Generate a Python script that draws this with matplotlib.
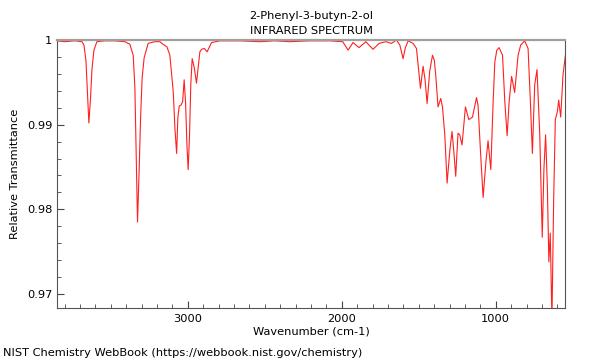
import matplotlib
matplotlib.use("Agg")
import matplotlib.pyplot as plt
from matplotlib.ticker import MultipleLocator

# spectrum (wavenumber in cm-1, relative transmittance)
wavenumber = [3851, 3799, 3734, 3688, 3675, 3662, 3653, 3643, 3633, 3623,
              3610, 3591, 3539, 3474, 3409, 3377, 3355, 3344, 3336, 3327,
              3316, 3307, 3297, 3284, 3258, 3214, 3182, 3162, 3136, 3117,
              3095, 3084, 3073, 3065, 3056, 3045, 3034, 3024, 3015, 3006,
              2998, 2989, 2981, 2972, 2958, 2944, 2933, 2922, 2911, 2893,
              2875, 2846, 2792, 2662, 2532, 2435, 2338, 2208, 2078, 1994,
              1959, 1927, 1888, 1844, 1797, 1758, 1714, 1677, 1645, 1623,
              1602, 1587, 1569, 1537, 1515, 1504, 1489, 1472, 1459, 1446,
              1429, 1411, 1399, 1390, 1375, 1357, 1346, 1331, 1316, 1299,
              1284, 1273, 1260, 1245, 1234, 1219, 1197, 1175, 1151, 1125,
              1115, 1099, 1082, 1064, 1050, 1032, 1017, 1006, 993, 978,
              956, 941, 926, 913, 897, 877, 855, 838, 812, 790,
              775, 762, 747, 732, 714, 698, 687, 676, 665, 655,
              646, 635, 624, 613, 600, 591, 578, 563, 546]
transmittance = [0.9999, 0.9998, 0.9999, 0.9998, 0.9994, 0.9976, 0.9941, 0.9902, 0.9929, 0.9965,
                 0.9988, 0.9998, 0.9999, 0.9999, 0.9998, 0.9995, 0.9982, 0.9943, 0.9868, 0.9785,
                 0.9849, 0.9908, 0.9955, 0.9979, 0.9996, 0.9998, 0.9998, 0.9995, 0.9992, 0.9982,
                 0.9939, 0.9896, 0.9866, 0.9908, 0.9922, 0.9923, 0.9927, 0.9953, 0.9927, 0.9876,
                 0.9847, 0.9888, 0.9947, 0.9978, 0.9967, 0.9949, 0.9967, 0.9986, 0.9989, 0.9990,
                 0.9986, 0.9997, 0.9999, 0.9999, 0.9998, 0.9999, 0.9998, 0.9999, 0.9999, 0.9998,
                 0.9988, 0.9997, 0.9991, 0.9998, 0.9989, 0.9996, 0.9998, 0.9996, 1.0000, 0.9994,
                 0.9978, 0.9991, 0.9999, 0.9996, 0.9990, 0.9970, 0.9943, 0.9969, 0.9953, 0.9925,
                 0.9963, 0.9982, 0.9976, 0.9959, 0.9921, 0.9931, 0.9921, 0.9888, 0.9831, 0.9868,
                 0.9892, 0.9870, 0.9839, 0.9890, 0.9888, 0.9876, 0.9921, 0.9906, 0.9909, 0.9932,
                 0.9923, 0.9868, 0.9814, 0.9856, 0.9881, 0.9847, 0.9927, 0.9974, 0.9988, 0.9991,
                 0.9982, 0.9927, 0.9887, 0.9927, 0.9957, 0.9938, 0.9982, 0.9994, 0.9999, 0.9990,
                 0.9927, 0.9866, 0.9947, 0.9965, 0.9888, 0.9767, 0.9848, 0.9888, 0.9829, 0.9738,
                 0.9772, 0.9669, 0.9809, 0.9906, 0.9915, 0.9929, 0.9909, 0.9959, 0.9984]

yticks = [0.97, 0.98, 0.99, 1.0]
ytick_labels = ["0.97", "0.98", "0.99", "1"]
xticks = [3000, 2000, 1000]

fs = 8.2

fig = plt.figure(figsize=(6, 3.6), dpi=100)
ax = fig.add_axes([0.095, 0.1444, 0.8467, 0.7445])

ax.plot(wavenumber, transmittance, color="#ff2020", lw=0.8)

ax.set_xlim(3850, 550)
ax.set_ylim(0.96835, 1.0)
ax.set_xticks(xticks)
ax.set_xticklabels([str(t) for t in xticks])
ax.xaxis.set_minor_locator(MultipleLocator(100))
ax.set_yticks(yticks)
ax.set_yticklabels(ytick_labels)
ax.yaxis.set_minor_locator(MultipleLocator(0.002))

ax.tick_params(which="both", direction="in", colors="#444444", labelcolor="black",
               labelsize=fs, top=False, right=False)
ax.tick_params(which="major", length=5)
ax.tick_params(which="minor", length=3)
ax.tick_params(axis="x", pad=4)

for side in ["left", "bottom", "right"]:
    ax.spines[side].set_color("#555555")
ax.spines["top"].set_color("#a0a0a0")
ax.spines["top"].set_linewidth(1.6)

ax.set_xlabel("Wavenumber (cm-1)", fontsize=fs, labelpad=2)
ax.set_ylabel("Relative Transmittance", fontsize=fs, labelpad=5)
ax.set_title("2-Phenyl-3-butyn-2-ol\nINFRARED SPECTRUM", fontsize=fs, linespacing=1.65, pad=4)

fig.text(0.005, 0.011, "NIST Chemistry WebBook (https://webbook.nist.gov/chemistry)", fontsize=fs)

fig.savefig("out.png", dpi=100)
